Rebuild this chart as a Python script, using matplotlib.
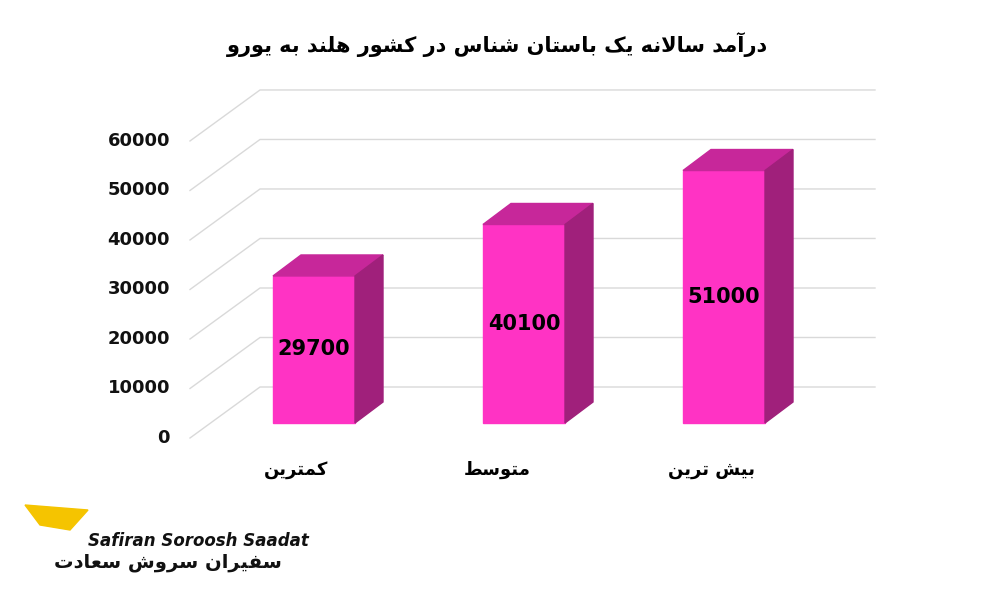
import matplotlib
matplotlib.use("Agg")
import matplotlib.pyplot as plt
from matplotlib.patches import Polygon

title = "درآمد سالانه یک باستان شناس در کشور هلند به یورو"
categories = ["کمترین", "متوسط", "بیش ترین"]
values = [29700, 40100, 51000]
ticks = [0, 10000, 20000, 30000, 40000, 50000, 60000]
logo_fa = "سفیران سروش سعادت"

# minimal arabic/persian shaping: char -> (isolated, final, initial, medial); None = no left join
FORMS = {
    "ا": (0xFE8D, 0xFE8E, None, None), "آ": (0xFE81, 0xFE82, None, None),
    "ب": (0xFE8F, 0xFE90, 0xFE91, 0xFE92), "ت": (0xFE95, 0xFE96, 0xFE97, 0xFE98),
    "د": (0xFEA9, 0xFEAA, None, None), "ر": (0xFEAD, 0xFEAE, None, None),
    "س": (0xFEB1, 0xFEB2, 0xFEB3, 0xFEB4), "ش": (0xFEB5, 0xFEB6, 0xFEB7, 0xFEB8),
    "ط": (0xFEC1, 0xFEC2, 0xFEC3, 0xFEC4), "ع": (0xFEC9, 0xFECA, 0xFECB, 0xFECC),
    "ف": (0xFED1, 0xFED2, 0xFED3, 0xFED4),
    "ل": (0xFEDD, 0xFEDE, 0xFEDF, 0xFEE0), "م": (0xFEE1, 0xFEE2, 0xFEE3, 0xFEE4),
    "ن": (0xFEE5, 0xFEE6, 0xFEE7, 0xFEE8), "ه": (0xFEE9, 0xFEEA, 0xFEEB, 0xFEEC),
    "و": (0xFEED, 0xFEEE, None, None), "ی": (0xFBFC, 0xFBFD, 0xFBFE, 0xFBFF),
    "ک": (0xFB8E, 0xFB8F, 0xFB90, 0xFB91),
}


def shape(text):
    # lam-alef ligature
    chars = []
    i = 0
    while i < len(text):
        if text[i] == "ل" and i + 1 < len(text) and text[i + 1] == "ا":
            chars.append("LA")
            i += 2
        else:
            chars.append(text[i])
            i += 1

    def joins_left(c):
        if c == "LA":
            return False
        return c in FORMS and FORMS[c][2] is not None

    def joins_right(c):
        return c == "LA" or c in FORMS

    out = []
    for k, c in enumerate(chars):
        prev = chars[k - 1] if k > 0 else None
        nxt = chars[k + 1] if k + 1 < len(chars) else None
        from_prev = prev is not None and joins_left(prev) and joins_right(c)
        if c == "LA":
            out.append(chr(0xFEFC if from_prev else 0xFEFB))
            continue
        if c not in FORMS:
            out.append(c)
            continue
        to_next = joins_left(c) and nxt is not None and joins_right(nxt)
        f = FORMS[c]
        if from_prev and to_next:
            out.append(chr(f[3]))
        elif from_prev:
            out.append(chr(f[1]))
        elif to_next:
            out.append(chr(f[2]))
        else:
            out.append(chr(f[0]))
    return "".join(out)[::-1]


plt.rcParams["font.family"] = ["DejaVu Sans"]

fig = plt.figure(figsize=(10, 6), dpi=100)
ax = fig.add_axes([0, 0, 1, 1])
PX = 202.0  # value units per pixel
ax.set_xlim(0, 1000)
ax.set_ylim((423 - 600) * PX, 423 * PX)
ax.axis("off")

# back wall gridlines
gx0, gx1, gx2 = 190, 260, 875
gfront = -15 * PX
gback = 36 * PX
for t in ticks:
    ax.plot([gx0, gx1, gx2], [t + gfront, t + gback, t + gback], color="#d9d9d9", lw=1, zorder=1)
    ax.text(170, t + gfront, str(t), ha="right", va="center", fontsize=13, fontweight="bold", color="#111")

# bars
centers = [314, 524, 724]
bw = 82
ddx, ddy = 28, 21 * PX
label_x = [296, 497, 712]
for c, v, lab, lx in zip(centers, values, categories, label_x):
    l, r = c - bw / 2, c + bw / 2
    ax.add_patch(Polygon([(l, 0), (r, 0), (r, v), (l, v)], color="#ff33c4", zorder=3))
    ax.add_patch(Polygon([(l, v), (r, v), (r + ddx, v + ddy), (l + ddx, v + ddy)], color="#c7279a", zorder=3))
    ax.add_patch(Polygon([(r, 0), (r + ddx, ddy), (r + ddx, v + ddy), (r, v)], color="#a0207b", zorder=3))
    ax.text(c, v / 2, str(v), ha="center", va="center", fontsize=15, fontweight="bold", zorder=4)
    ax.text(lx, -47 * PX, shape(lab), ha="center", va="center", fontsize=13, fontweight="bold")

ax.text(497, (423 - 45) * PX, shape(title), ha="center", va="center", fontsize=15, fontweight="bold")

# logo
ax.text(88, (423 - 541) * PX, "Safiran Soroosh Saadat", ha="left", va="center",
        fontsize=12, fontweight="bold", style="italic", color="#111")
ax.text(282, (423 - 563) * PX, shape(logo_fa), ha="right", va="center", fontsize=14, fontweight="bold", color="#111")
ax.add_patch(Polygon([(25, (423 - 505) * PX), (88, (423 - 510) * PX), (70, (423 - 530) * PX),
                      (40, (423 - 525) * PX)], color="#f5c400"))

fig.savefig("out.png", dpi=100)
